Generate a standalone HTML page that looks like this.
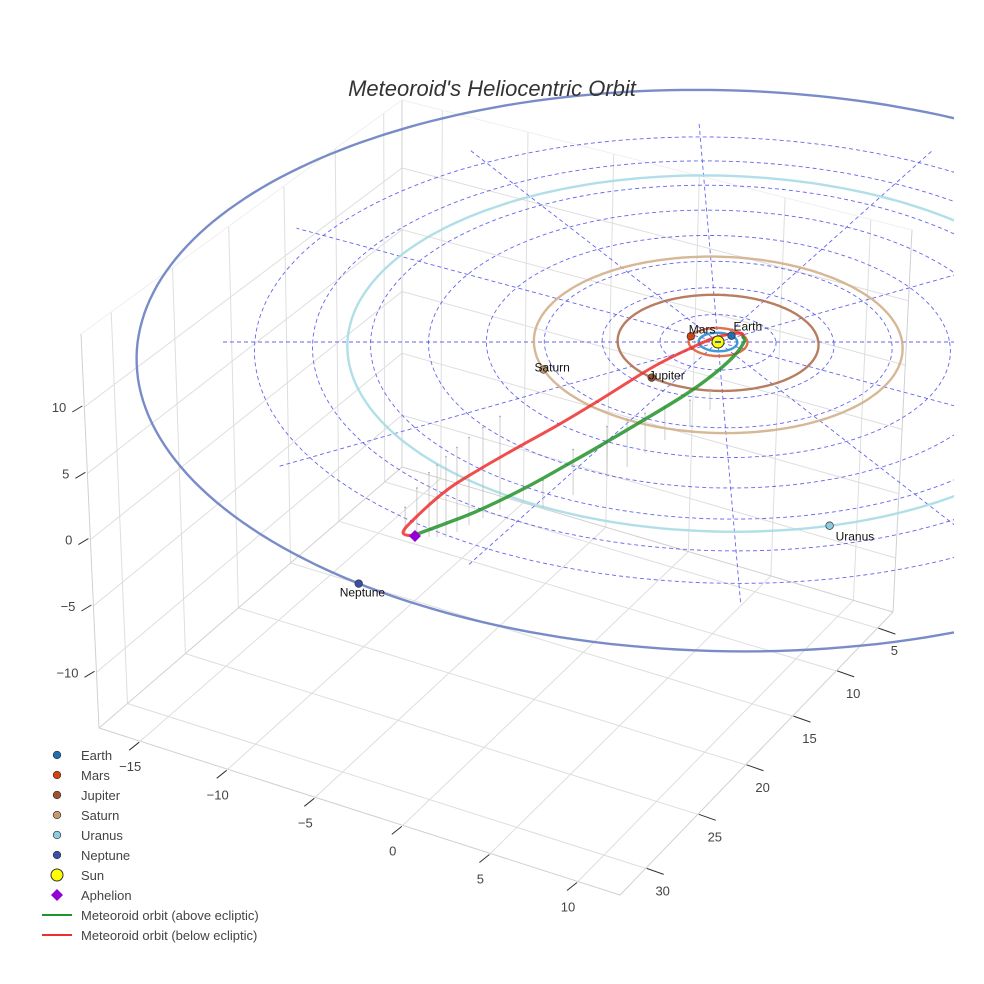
<!DOCTYPE html>
<html><head><meta charset="utf-8"><title>Meteoroid's Heliocentric Orbit</title>
<style>
html,body{margin:0;padding:0;background:#fff;}
svg{display:block;font-family:"Liberation Sans",sans-serif;}
</style></head>
<body>
<svg id="chart" width="984" height="984" viewBox="0 0 984 984" xmlns="http://www.w3.org/2000/svg">
<defs><clipPath id="clipPlot"><rect x="0" y="0" width="954" height="984"/></clipPath></defs>
<rect width="984" height="984" fill="#fff"/>
<g id="box"></g>
<g id="ticks"></g>
<g id="plot" clip-path="url(#clipPlot)"></g>
<text x="492" y="96" text-anchor="middle" font-size="22" font-style="italic" fill="#333">Meteoroid's Heliocentric Orbit</text>
<g id="legend"></g>
</svg>
<script>
// ---- data ----
const planetNames = ["Earth","Mars","Jupiter","Saturn","Uranus","Neptune"];
const planetOrbitRadius = [1.0, 1.52, 5.2, 9.54, 19.2, 30.07];
const planetAngleDeg = [317, 204, 133, 162, 76, 127];
const planetColors = ["#1f6fb4","#d4420f","#a0522d","#c49a6c","#8ccbe0","#3b4fa8"];
const orbitColors = ["#2a8fd0","#d8643a","#b07050","#d2b08c","#a8dbe6","#6a7fc2"];
const ringRadii = [3,6,9,12,15,18,21,24];
const radialAnglesDeg = [0,30,60,90,120,150];
const radialLength = 25.7;
const redX = [1.32,1.18,-0.03,-1.31,-3.45,-6.24,-8.31,-10.33,-12.33,-13.95,-15.58,-16.05,-15.47];
const redY = [-0.54,-0.97,-0.54,0.54,2.68,6.14,8.61,10.85,13.14,15.19,18.08,19.32,19.6];
const greenX = [-15.47,-15.23,-13.93,-12.33,-10.02,-7.86,-5.83,-2.17,-0.56,0.71,1.35,1.32];
const greenY = [19.6,19.32,18.37,17.12,14.9,12.54,10.24,5.94,3.74,1.61,0,-0.54];
const stemX = [-15.95,-15.38,-14.79,-14.4,-13.97,-13.44,-12.86,-12.18,-11.35,-9.25,-7.76,-6.06,-5.04,-4.11,-3.08,-1.77,-0.70];
const stemY = [19.32,19.32,19.7,19.7,19.7,19.22,18.57,17.9,17.12,16.94,15.69,13.92,12.94,11.54,10.24,8.72,7.18];
const stemZ = [2.4,4.2,6.0,6.7,7.5,7.9,8.2,8.5,8.8,2.6,4.3,4.8,4.5,3.8,3.2,2.4,2.0];
const aphelionX = [-15.47];
const aphelionY = [19.6];
const xTicks = [-15,-10,-5,0,5,10];
const yTicks = [5,10,15,20,25,30];
const zTicks = [-10,-5,0,5,10];

// ---- projection (ecliptic AU -> screen) ----
function P(X,Y,Z){ const w=1-Y/295; return [718+(19.3*X+0.8*Y)/w, 342+(9.24*Y-10*(Z||0))/w]; }

// ---- box axis functions ----
const C = {Lb:[99,728],F:[620,895],Rb:[893,612],Bb:[402,467],Lt:[81,334],Bt:[402,100],Rt:[912,230]};
C.Ft=[C.Lt[0]+C.Rt[0]-C.Bt[0], C.Lt[1]+C.Rt[1]-C.Bt[1]];
function bil(a,b,c,d,u,v){
  return [(1-u)*(1-v)*a[0]+u*(1-v)*b[0]+u*v*c[0]+(1-u)*v*d[0],(1-u)*(1-v)*a[1]+u*(1-v)*b[1]+u*v*c[1]+(1-u)*v*d[1]];}
function pt(tx,s,zf){ const top=bil(C.Lt,C.Ft,C.Rt,C.Bt,tx,s), bot=bil(C.Lb,C.F,C.Rb,C.Bb,tx,s);
  return [top[0]+(bot[0]-top[0])*zf, top[1]+(bot[1]-top[1])*zf]; }
function xFrac(x){ return (x+17.35)/29.75; }
const yCalV=[30,25,20,15,10,5], yCalS=[0.094,0.285,0.46,0.632,0.792,0.943];
function yFrac(y){ for(let i=0;i<yCalV.length-1;i++){ if(y<=yCalV[i]&&y>=yCalV[i+1]){const t=(yCalV[i]-y)/(yCalV[i]-yCalV[i+1]);return yCalS[i]+t*(yCalS[i+1]-yCalS[i]);}} return y>30?0:1; }
function zFrac(z){ return (15.5-z)/29.7; }

const NS="http://www.w3.org/2000/svg";
function mk(tag,attrs,parent){ const e=document.createElementNS(NS,tag); for(const k in attrs) e.setAttribute(k,attrs[k]); parent.appendChild(e); return e; }
function line(p,q,parent,stroke,sw){ return mk("line",{x1:p[0].toFixed(1),y1:p[1].toFixed(1),x2:q[0].toFixed(1),y2:q[1].toFixed(1),stroke:stroke,"stroke-width":sw},parent); }

const box=document.getElementById("box"), ticks=document.getElementById("ticks"), plot=document.getElementById("plot"), legend=document.getElementById("legend");
const GRID="#dedede", EDGE="#d0d0d0";
xTicks.forEach(x=>{ const l=line(pt(xFrac(x),0,1),pt(xFrac(x),1,1),box,GRID,1);
    });
yTicks.forEach(y=>{ const l=line(pt(0,yFrac(y),1),pt(1,yFrac(y),1),box,GRID,1);
    });
yTicks.forEach(y=>{ const l=line(pt(0,yFrac(y),0),pt(0,yFrac(y),1),box,GRID,1);
    });
zTicks.forEach(z=>{ const l=line(pt(0,0,zFrac(z)),pt(0,1,zFrac(z)),box,GRID,1);
    });
xTicks.forEach(x=>{ const l=line(pt(xFrac(x),1,0),pt(xFrac(x),1,1),box,GRID,1);
    });
zTicks.forEach(z=>{ const l=line(pt(0,1,zFrac(z)),pt(1,1,zFrac(z)),box,GRID,1);
    });
[[pt(0,0,0),pt(0,0,1)],[pt(0,1,0),pt(0,1,1)],[pt(1,1,0),pt(1,1,1)],
 [pt(0,0,1),pt(1,0,1)],[pt(1,0,1),pt(1,1,1)],[pt(0,0,1),pt(0,1,1)],[pt(0,1,1),pt(1,1,1)]].forEach(e=>{
  const l=line(e[0],e[1],box,EDGE,1);   });
[[pt(0,0,0),pt(0,1,0)],[pt(0,1,0),pt(1,1,0)]].forEach(e=>{
  const l=line(e[0],e[1],box,"#efefef",1);   });

function lab(txt,x,y,anchor){ const t=mk("text",{x:x.toFixed(1),y:y.toFixed(1),"text-anchor":anchor,"font-size":"13",fill:"#444"},ticks); t.textContent=txt; return t; }
function fmt(v){ return v<0?"\u2212"+Math.abs(v):String(v); }
xTicks.forEach(x=>{ const p=pt(xFrac(x),0,1); const l=line([p[0]-1,p[1]+1],[p[0]-11,p[1]+9],ticks,"#333",1);
   
  const t=lab(fmt(x),p[0]-10,p[1]+30,"middle");   });
yTicks.forEach(y=>{ const p=pt(1,yFrac(y),1); const l=line([p[0]+1,p[1]],[p[0]+18,p[1]+6],ticks,"#333",1);
   
  const t=lab(fmt(y),p[0]+17,p[1]+27,"middle");   });
zTicks.forEach(z=>{ const p=pt(0,0,zFrac(z)); const l=line([p[0]-2,p[1]-1],[p[0]-12,p[1]+5],ticks,"#333",1);
   
  const t=lab(fmt(z),p[0]-18,p[1]+5,"end");   });

ringRadii.forEach(r=>{ let d=""; for(let i=0;i<=180;i++){ const a=i/180*2*Math.PI; const p=P(r*Math.cos(a),r*Math.sin(a),0); d+=(i?"L":"M")+p[0].toFixed(1)+","+p[1].toFixed(1);}
  const e=mk("path",{d:d,fill:"none",stroke:"#4b4bea","stroke-width":"0.9","stroke-dasharray":"4,3",opacity:"0.85"},plot);
    });
radialAnglesDeg.forEach(a=>{ const t=a*Math.PI/180; const p=P(radialLength*Math.cos(t),radialLength*Math.sin(t),0), q=P(-radialLength*Math.cos(t),-radialLength*Math.sin(t),0);
  const l=mk("line",{x1:p[0],y1:p[1],x2:q[0],y2:q[1],stroke:"#4b4bea","stroke-width":"0.9","stroke-dasharray":"4,3",opacity:"0.85"},plot);
    });

planetOrbitRadius.forEach((r,k)=>{ let d=""; for(let i=0;i<=240;i++){ const a=i/240*2*Math.PI; const p=P(r*Math.cos(a),r*Math.sin(a),0); d+=(i?"L":"M")+p[0].toFixed(1)+","+p[1].toFixed(1);}
  const e=mk("path",{d:d,fill:"none",stroke:orbitColors[k],"stroke-width":"2.4",opacity:"0.9"},plot);
    });

stemX.forEach((x,i)=>{ const p=P(x,stemY[i],0), q=P(x,stemY[i],stemZ[i]);
  const l=mk("line",{x1:p[0],y1:p[1],x2:q[0],y2:q[1],stroke:"#b8b8b8","stroke-width":"0.7"},plot);
   
  const c=mk("circle",{cx:q[0],cy:q[1],r:"0.9",fill:"#aaa"},plot);
    });

function smooth(xs,ys){ const pts=xs.map((x,i)=>P(x,ys[i],0)); let d="M"+pts[0][0].toFixed(1)+","+pts[0][1].toFixed(1);
  for(let i=0;i<pts.length-1;i++){ const p0=pts[Math.max(0,i-1)],p1=pts[i],p2=pts[i+1],p3=pts[Math.min(pts.length-1,i+2)];
    const c1=[p1[0]+(p2[0]-p0[0])/6,p1[1]+(p2[1]-p0[1])/6], c2=[p2[0]-(p3[0]-p1[0])/6,p2[1]-(p3[1]-p1[1])/6];
    d+="C"+c1[0].toFixed(1)+","+c1[1].toFixed(1)+" "+c2[0].toFixed(1)+","+c2[1].toFixed(1)+" "+p2[0].toFixed(1)+","+p2[1].toFixed(1);} return d; }
const red=mk("path",{d:smooth(redX,redY),fill:"none",stroke:"#ee2e2e","stroke-width":"3",opacity:"0.85","stroke-linecap":"round"},plot);
 
const green=mk("path",{d:smooth(greenX,greenY),fill:"none",stroke:"#23922a","stroke-width":"3.4",opacity:"0.85","stroke-linecap":"round"},plot);
 

const labelOff=[[2,-5,"start"],[-2,-3,"start"],[-3,2,"start"],[-9,2,"start"],[6,15,"start"],[-19,13,"start"]];
planetNames.forEach((n,k)=>{ const a=planetAngleDeg[k]*Math.PI/180, r=planetOrbitRadius[k]; const p=P(r*Math.cos(a),r*Math.sin(a),0);
  const c=mk("circle",{cx:p[0].toFixed(1),cy:p[1].toFixed(1),r:"3.8",fill:planetColors[k],stroke:"#333","stroke-width":"0.7"},plot);
   
  const t=mk("text",{x:(p[0]+labelOff[k][0]).toFixed(1),y:(p[1]+labelOff[k][1]).toFixed(1),"font-size":"12",fill:"#111","text-anchor":labelOff[k][2]},plot);
  t.textContent=n;   });

const sp=P(0,0,0);
const sun=mk("circle",{cx:sp[0],cy:sp[1],r:"6",fill:"#ffff00",stroke:"#333","stroke-width":"1"},plot);
 
const sunIn=mk("rect",{x:sp[0]-3,y:sp[1]-1,width:"6",height:"2",fill:"#3a5fcf"},plot);
 

aphelionX.forEach((x,i)=>{ const p=P(x,aphelionY[i],0);
  const d=mk("path",{d:`M${p[0]},${p[1]-6}L${p[0]+6},${p[1]}L${p[0]},${p[1]+6}L${p[0]-6},${p[1]}Z`,fill:"#9400d3"},plot);
    });

const legItems=[["Earth","circle",planetColors[0]],["Mars","circle",planetColors[1]],["Jupiter","circle",planetColors[2]],["Saturn","circle",planetColors[3]],
 ["Uranus","circle",planetColors[4]],["Neptune","circle",planetColors[5]],["Sun","sun","#ffff00"],["Aphelion","diamond","#9400d3"],
 ["Meteoroid orbit (above ecliptic)","line","#23922a"],["Meteoroid orbit (below ecliptic)","line","#ee2e2e"]];
legItems.forEach((it,i)=>{ const y=755+i*20;
  const g=mk("g",{},legend);
  
  
  if(it[1]==="circle") mk("circle",{cx:57,cy:y,r:"3.8",fill:it[2],stroke:"#333","stroke-width":"0.7"},g);
  else if(it[1]==="sun") mk("circle",{cx:57,cy:y,r:"6",fill:it[2],stroke:"#333","stroke-width":"1"},g);
  else if(it[1]==="diamond") mk("path",{d:`M57,${y-6}L63,${y}L57,${y+6}L51,${y}Z`,fill:it[2]},g);
  else mk("line",{x1:42,y1:y,x2:72,y2:y,stroke:it[2],"stroke-width":"2"},g);
  const t=mk("text",{x:81,y:y+5,"font-size":"13",fill:"#444"},g); t.textContent=it[0]; });
</script>
</body></html>
